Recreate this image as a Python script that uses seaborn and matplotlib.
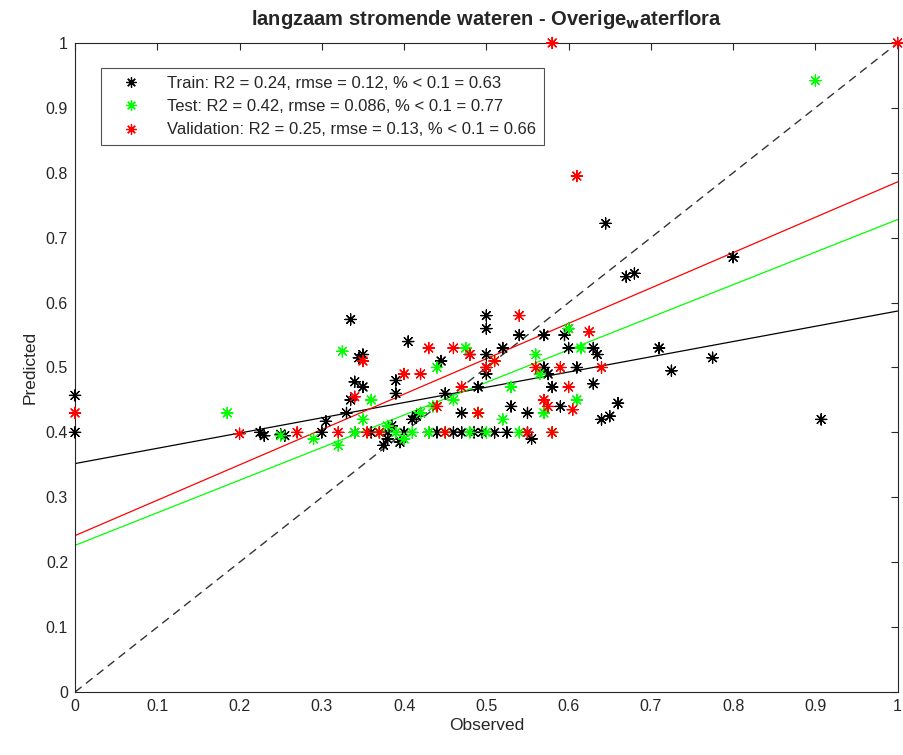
import matplotlib
matplotlib.use("Agg")
import matplotlib.pyplot as plt
import seaborn as sns
import pandas as pd
import numpy as np
from matplotlib.lines import Line2D

# observed / predicted pairs
train_obs = [0, 0, 0.225, 0.23, 0.25, 0.255, 0.30, 0.305, 0.33, 0.335, 0.34, 0.345, 0.35, 0.35,
             0.335, 0.34, 0.36, 0.37, 0.375, 0.38, 0.38, 0.385, 0.39, 0.39, 0.395, 0.40, 0.405,
             0.41, 0.415, 0.42, 0.43, 0.44, 0.445, 0.45, 0.46, 0.47, 0.47, 0.48, 0.485, 0.49,
             0.495, 0.50, 0.50, 0.50, 0.50, 0.50, 0.51, 0.52, 0.525, 0.53, 0.54, 0.55, 0.55,
             0.555, 0.57, 0.57, 0.575, 0.58, 0.59, 0.595, 0.60, 0.60, 0.61, 0.63, 0.635, 0.63,
             0.64, 0.645, 0.65, 0.66, 0.67, 0.68, 0.71, 0.725, 0.775, 0.80, 0.907]
train_pred = [0.457, 0.40, 0.40, 0.395, 0.397, 0.395, 0.40, 0.417, 0.43, 0.574, 0.478, 0.515, 0.52, 0.47,
              0.45, 0.40, 0.40, 0.40, 0.38, 0.39, 0.40, 0.41, 0.46, 0.48, 0.385, 0.40, 0.54,
              0.42, 0.425, 0.43, 0.40, 0.40, 0.51, 0.46, 0.40, 0.43, 0.40, 0.52, 0.40, 0.47,
              0.40, 0.58, 0.56, 0.52, 0.50, 0.49, 0.40, 0.53, 0.40, 0.44, 0.55, 0.43, 0.40,
              0.39, 0.55, 0.50, 0.49, 0.47, 0.44, 0.55, 0.56, 0.53, 0.50, 0.53, 0.52, 0.475,
              0.42, 0.722, 0.425, 0.445, 0.64, 0.645, 0.53, 0.495, 0.515, 0.67, 0.42]

test_obs = [0.185, 0.25, 0.29, 0.32, 0.325, 0.34, 0.35, 0.36, 0.37, 0.38, 0.39, 0.40, 0.41, 0.42,
            0.43, 0.435, 0.44, 0.45, 0.46, 0.475, 0.48, 0.49, 0.50, 0.51, 0.52, 0.53, 0.54,
            0.56, 0.565, 0.57, 0.58, 0.60, 0.61, 0.615, 0.90]
test_pred = [0.43, 0.395, 0.39, 0.38, 0.525, 0.40, 0.42, 0.45, 0.40, 0.41, 0.40, 0.39, 0.40, 0.43,
             0.40, 0.44, 0.50, 0.40, 0.45, 0.53, 0.40, 0.43, 0.40, 0.51, 0.42, 0.47, 0.40,
             0.52, 0.49, 0.43, 0.40, 0.56, 0.45, 0.53, 0.942]

val_obs = [0, 0.20, 0.27, 0.32, 0.34, 0.35, 0.355, 0.37, 0.40, 0.42, 0.43, 0.44, 0.45, 0.46,
           0.47, 0.48, 0.49, 0.50, 0.51, 0.54, 0.55, 0.56, 0.57, 0.575, 0.58, 0.58, 0.59,
           0.60, 0.605, 0.61, 0.625, 0.64, 1.0]
val_pred = [0.43, 0.398, 0.40, 0.40, 0.455, 0.51, 0.40, 0.40, 0.49, 0.49, 0.53, 0.44, 0.40, 0.53,
            0.47, 0.52, 0.43, 0.50, 0.51, 0.58, 0.40, 0.50, 0.45, 0.44, 0.40, 1.0, 0.50,
            0.47, 0.435, 0.795, 0.555, 0.50, 1.0]

# fitted lines (intercept, slope) per set
sets = ["Train", "Test", "Validation"]
fit_intercept = [0.352, 0.226, 0.241]
fit_slope = [0.235, 0.502, 0.545]
r2 = ["0.24", "0.42", "0.25"]
rmse = ["0.12", "0.086", "0.13"]
frac = ["0.63", "0.77", "0.66"]
colors = {"Train": "black", "Test": "#00ff00", "Validation": "#ff0000"}

df = pd.concat([
    pd.DataFrame({"Observed": train_obs, "Predicted": train_pred, "set": "Train"}),
    pd.DataFrame({"Observed": test_obs, "Predicted": test_pred, "set": "Test"}),
    pd.DataFrame({"Observed": val_obs, "Predicted": val_pred, "set": "Validation"}),
], ignore_index=True)

sns.set_style("white")
plt.rcParams["font.family"] = ["Liberation Sans", "DejaVu Sans"]

fig = plt.figure(figsize=(9.04, 7.55), dpi=100)
ax = fig.add_axes([0.083, 0.0834, 0.910, 0.8597])

star = (8, 2, 0)
sns.scatterplot(data=df, x="Observed", y="Predicted", hue="set", palette=colors,
                marker=star, s=65, linewidth=0.9, legend=False, ax=ax)
for coll in ax.collections:
    coll.set_clip_on(False)
    coll.set_zorder(3)

xs = np.array([0, 1])
ax.plot(xs, xs, "--", color="#333333", lw=1.0, dashes=(6, 4))
for name, b0, b1 in zip(sets, fit_intercept, fit_slope):
    ax.plot(xs, b0 + b1 * xs, color=colors[name], lw=0.9)

ax.set_xlim(0, 1)
ax.set_ylim(0, 1)
ticks = np.round(np.arange(0, 1.01, 0.1), 1)
labels = ["0"] + [f"{t:g}" for t in ticks[1:-1]] + ["1"]
ax.set_xticks(ticks)
ax.set_xticklabels(labels)
ax.set_yticks(ticks)
ax.set_yticklabels(labels)
ax.tick_params(direction="in", length=5, width=0.8, labelsize=11.5, colors="#262626",
               top=True, right=True, pad=5)
for sp in ax.spines.values():
    sp.set_color("#262626")
    sp.set_linewidth(0.8)
ax.set_xlabel("Observed", fontsize=12.5, color="#262626", labelpad=3)
ax.set_ylabel("Predicted", fontsize=12.5, color="#262626", labelpad=6)
ax.set_title(r"langzaam stromende wateren - Overige$_{\mathbf{w}}$aterflora",
             fontsize=14.5, fontweight="bold", pad=13)

handles = [Line2D([], [], ls="", marker=star, color=colors[n], markersize=7.5, mew=0.9) for n in sets]
leg_labels = [f"{n}: R2 = {a}, rmse = {b}, % < 0.1 = {c}" for n, a, b, c in zip(sets, r2, rmse, frac)]
leg = ax.legend(handles, leg_labels, loc="upper left", bbox_to_anchor=(0.021, 0.974),
                fontsize=12, frameon=True, fancybox=False, edgecolor="#262626",
                borderpad=0.45, labelspacing=0.5, handletextpad=0.75, handlelength=2.8)
leg.get_frame().set_linewidth(0.8)

fig.savefig("out.png", dpi=100, facecolor="white")
